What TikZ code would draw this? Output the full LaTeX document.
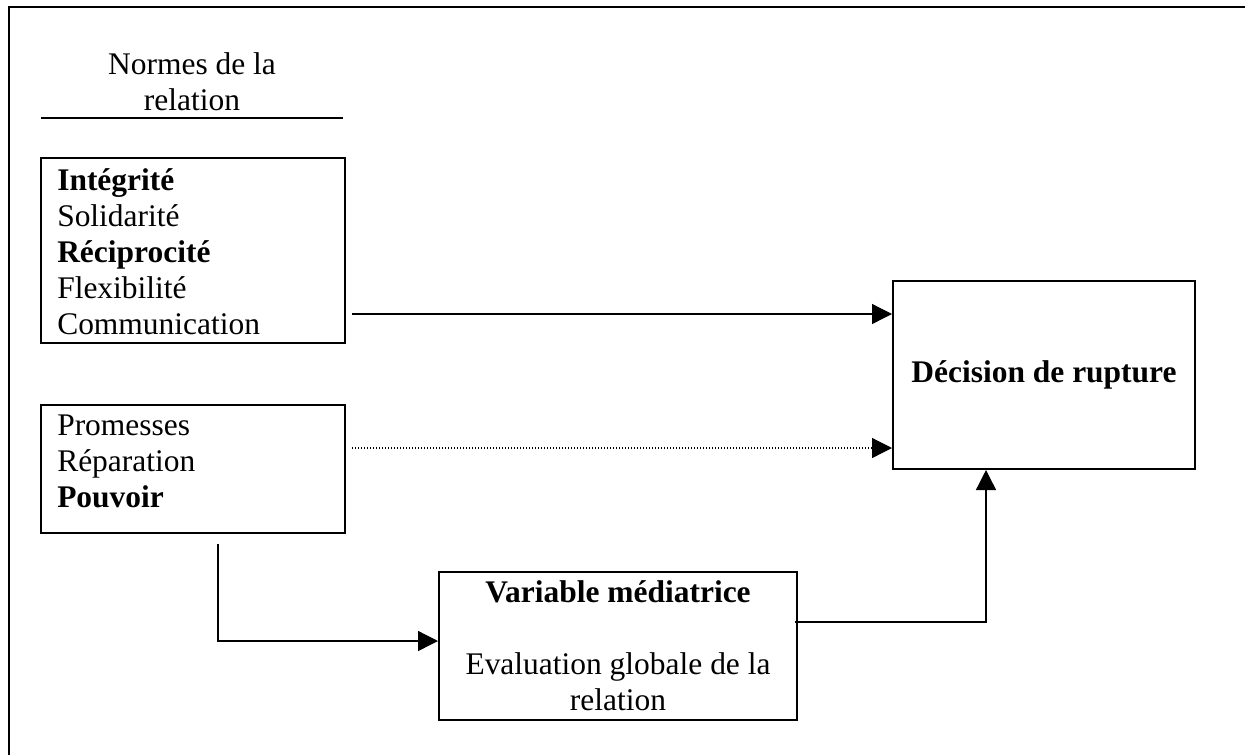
\documentclass[tikz,border=0pt]{standalone}
\usepackage{fontspec}
\setmainfont{Liberation Serif}
\usetikzlibrary{arrows.meta}
\begin{document}
\begin{tikzpicture}[x=0.75pt,y=-0.75pt,
  every node/.style={font=\fontsize{23.6pt}{27pt}\selectfont},
  boxnode/.style={draw,line width=1.5pt,inner sep=0pt},
  arr/.style={line width=1pt,-{Triangle[length=15pt,width=15pt]}},
  dotarr/.style={line width=0.9pt,dash pattern=on 0.75pt off 1.5pt,-{Triangle[length=15pt,width=15pt]}}]
\useasboundingbox (0,0) rectangle (1245,754);
\clip (0,0) rectangle (1245,754);
% outer frame
\draw[line width=2pt] (1260,7) -- (9,7) -- (9,770);
% title
\node[align=center] (title) at (192,82) {Normes de la\\relation};
\draw[line width=1.2pt] (41,118) -- (343,118);
% boxes
\node[boxnode,minimum width=228pt,minimum height=138.75pt] (b1) at (193,250.5) {};
\node[anchor=west,align=left,inner sep=0pt] (t1) at (57,251.5)
  {\textbf{Intégrité}\\Solidarité\\\textbf{Réciprocité}\\Flexibilité\\Communication};
\node[boxnode,minimum width=228pt,minimum height=96pt] (b2) at (193,469) {};
\node[anchor=west,align=left,inner sep=0pt] (t2) at (57,461)
  {Promesses\\Réparation\\\textbf{Pouvoir}};
\node[boxnode,minimum width=226.5pt,minimum height=141pt] (dec) at (1044,375)
  {\textbf{Décision de rupture}};
\node[boxnode,minimum width=268.5pt,minimum height=111pt,align=center] (var) at (618,646)
  {\textbf{Variable médiatrice}\\[27pt]Evaluation globale de la\\relation};
% connectors
\coordinate (s1) at (352,314);
\coordinate (s2) at (352,448);
\coordinate (s3) at (218,544);
\coordinate (s4) at (795,622);
\draw[arr] (s1) -- (s1 -| dec.west);
\draw[dotarr] (s2) -- (s2 -| dec.west);
\draw[arr] (s3) |- ([yshift=3.75pt]var.west);
\draw[arr] (s4) -| ([xshift=-43.5pt]dec.south);
\end{tikzpicture}
\end{document}
